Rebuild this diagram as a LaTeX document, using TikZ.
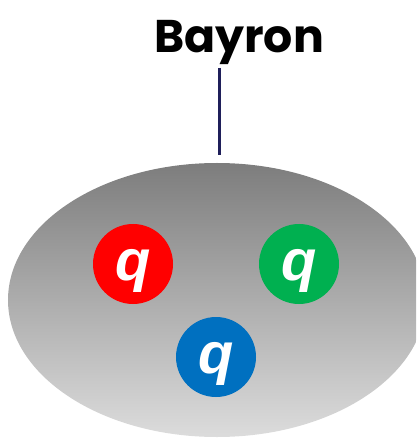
\documentclass[tikz,border=0pt]{standalone}
\usepackage{fontspec}
\setmainfont{Liberation Sans}
\newfontfamily\titlefont{Poppins}
\usetikzlibrary{shapes.geometric}
\definecolor{qred}{HTML}{FF0000}
\definecolor{qgreen}{HTML}{00B050}
\definecolor{qblue}{HTML}{0070C0}
\definecolor{navy}{HTML}{1F1F5A}
\newcommand{\qlabel}{\smash{\raisebox{-16bp}{q}}}
\tikzset{
  quark/.style={circle, minimum size=80bp, inner sep=0pt, text=white,
    font=\fontsize{58}{58}\selectfont\bfseries\itshape},
  title/.style={font=\titlefont\fontsize{46}{46}\selectfont\bfseries, inner sep=0pt}
}
\begin{document}
\begin{tikzpicture}[x=1bp,y=-1bp]
\useasboundingbox (0,0) rectangle (416,438);
\begin{scope}
\clip (0,0) rectangle (416,438);
\node[ellipse, minimum width=418bp, minimum height=274bp, inner sep=0pt,
  top color={rgb,255:red,125;green,125;blue,125}, bottom color={rgb,255:red,220;green,220;blue,220}] (hadron) at (217,300) {};
\end{scope}
\node[quark, fill=qred] (r) at (133,264) {\qlabel};
\node[quark, fill=qgreen] (g) at (299,264) {\qlabel};
\node[quark, fill=qblue] (b) at (216,357) {\qlabel};
\node[title, anchor=base] (label) at (239,53) {Bayron};
\coordinate (ltop) at (219,68);
\draw[navy, line width=3bp] (ltop) -- (219,155);
\end{tikzpicture}
\end{document}
